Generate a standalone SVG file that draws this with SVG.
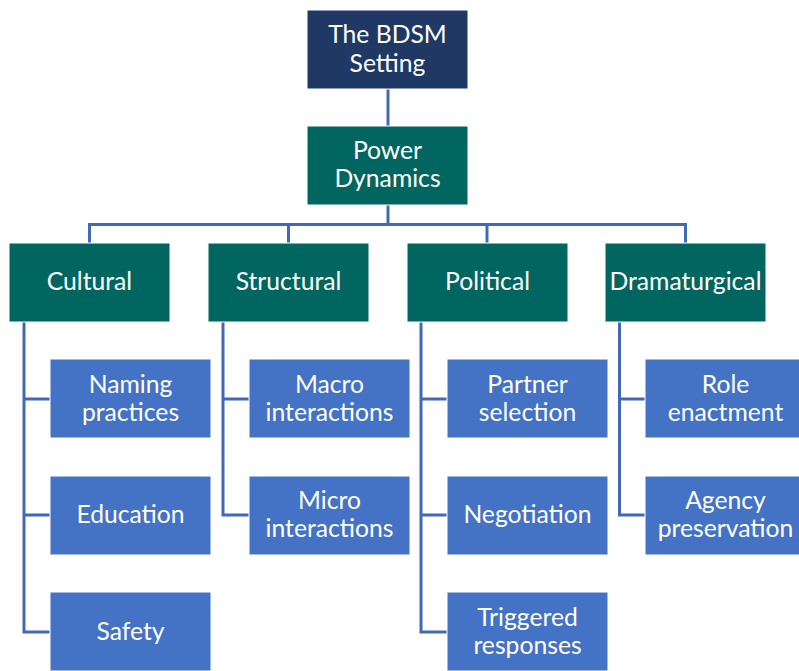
<svg xmlns="http://www.w3.org/2000/svg" width="799" height="671" viewBox="0 0 799 671">
  <style>
    .box { stroke: #ffffff; stroke-width: 1; }
    .navy { fill: #203864; }
    .teal { fill: #026660; }
    .blue { fill: #4472C4; }
    .lbl { fill: #ffffff; font-family: "Lato", "Liberation Sans", sans-serif; font-size: 24.7px; text-anchor: middle; }
    .wire { fill: none; stroke: #4169B8; stroke-width: 3; }
  </style>
  <rect width="799" height="671" fill="#ffffff"/>

  <!-- connectors -->
  <g id="connectors">
    <path class="wire" d="M388 89 V126"/>
    <path class="wire" d="M388 205 V224.5 M89.5 243 V224.5 H685.5 V243 M288.5 224.5 V243 M487 224.5 V243"/>
    <path class="wire" d="M24 322 V632 H50 M24 399 H50 M24 515 H50"/>
    <path class="wire" d="M223 322 V515 H249 M223 399 H249"/>
    <path class="wire" d="M421 322 V632 H447 M421 399 H447 M421 515 H447"/>
    <path class="wire" d="M619.5 322 V515 H645 M619.5 399 H645"/>
  </g>

  <!-- root -->
  <g id="bdsm-setting">
    <rect class="box navy" x="307" y="10" width="161" height="79"/>
    <text class="lbl" x="387.5" y="43">The BDSM</text>
    <text class="lbl" x="387.5" y="72">Setting</text>
  </g>
  <g id="power-dynamics">
    <rect class="box teal" x="307" y="126" width="161" height="79"/>
    <text class="lbl" x="387.5" y="159">Power</text>
    <text class="lbl" x="387.5" y="187">Dynamics</text>
  </g>

  <!-- second level -->
  <g id="cultural">
    <rect class="box teal" x="9" y="243" width="161" height="79"/>
    <text class="lbl" x="89.5" y="290">Cultural</text>
  </g>
  <g id="structural">
    <rect class="box teal" x="208" y="243" width="161" height="79"/>
    <text class="lbl" x="288.5" y="290">Structural</text>
  </g>
  <g id="political">
    <rect class="box teal" x="407" y="243" width="161" height="79"/>
    <text class="lbl" x="487.5" y="290">Political</text>
  </g>
  <g id="dramaturgical">
    <rect class="box teal" x="605" y="243" width="161" height="79"/>
    <text class="lbl" x="685.5" y="290">Dramaturgical</text>
  </g>

  <!-- third level: cultural -->
  <g id="naming-practices">
    <rect class="box blue" x="50" y="359" width="161" height="79"/>
    <text class="lbl" x="130.5" y="393">Naming</text>
    <text class="lbl" x="130.5" y="421">practices</text>
  </g>
  <g id="education">
    <rect class="box blue" x="50" y="476" width="161" height="79"/>
    <text class="lbl" x="130.5" y="523">Education</text>
  </g>
  <g id="safety">
    <rect class="box blue" x="50" y="592" width="161" height="79"/>
    <text class="lbl" x="130.5" y="640">Safety</text>
  </g>

  <!-- third level: structural -->
  <g id="macro-interactions">
    <rect class="box blue" x="249" y="359" width="161" height="79"/>
    <text class="lbl" x="329.5" y="393">Macro</text>
    <text class="lbl" x="329.5" y="421">interactions</text>
  </g>
  <g id="micro-interactions">
    <rect class="box blue" x="249" y="476" width="161" height="79"/>
    <text class="lbl" x="329.5" y="509">Micro</text>
    <text class="lbl" x="329.5" y="537">interactions</text>
  </g>

  <!-- third level: political -->
  <g id="partner-selection">
    <rect class="box blue" x="447" y="359" width="161" height="79"/>
    <text class="lbl" x="527.5" y="393">Partner</text>
    <text class="lbl" x="527.5" y="421">selection</text>
  </g>
  <g id="negotiation">
    <rect class="box blue" x="447" y="476" width="161" height="79"/>
    <text class="lbl" x="527.5" y="523">Negotiation</text>
  </g>
  <g id="triggered-responses">
    <rect class="box blue" x="447" y="592" width="161" height="79"/>
    <text class="lbl" x="527.5" y="626">Triggered</text>
    <text class="lbl" x="527.5" y="654">responses</text>
  </g>

  <!-- third level: dramaturgical -->
  <g id="role-enactment">
    <rect class="box blue" x="645" y="359" width="161" height="79"/>
    <text class="lbl" x="725.5" y="393">Role</text>
    <text class="lbl" x="725.5" y="421">enactment</text>
  </g>
  <g id="agency-preservation">
    <rect class="box blue" x="645" y="476" width="161" height="79"/>
    <text class="lbl" x="725.5" y="509">Agency</text>
    <text class="lbl" x="725.5" y="537">preservation</text>
  </g>
</svg>
